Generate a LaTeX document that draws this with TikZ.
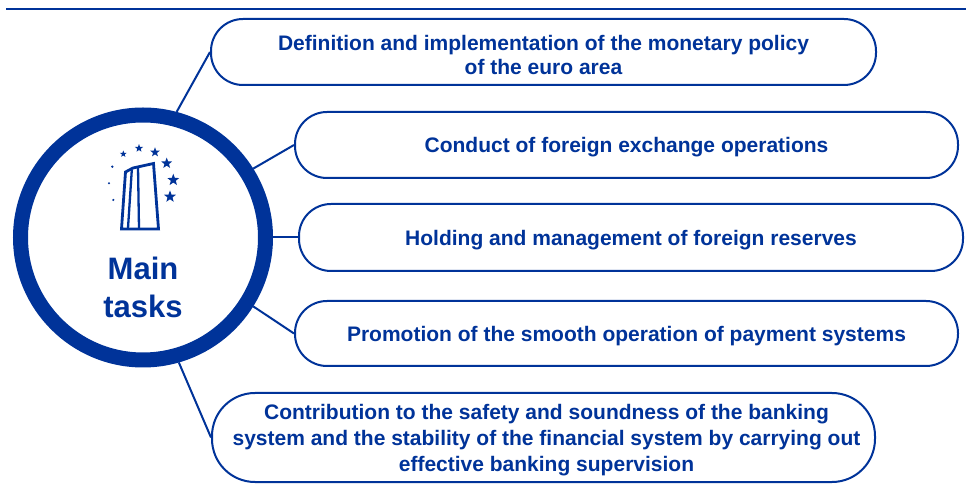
\documentclass[tikz,border=0pt]{standalone}
\usepackage{fontspec}
\setmainfont{Liberation Sans}
\usetikzlibrary{shapes.geometric}
\definecolor{ecbblue}{RGB}{0,51,153}
\begin{document}
\begin{tikzpicture}[x=1pt,y=-1pt,
  taskbox/.style={draw=ecbblue, line width=2pt, rounded corners=32pt, minimum height=66pt, inner sep=0pt},
  boxtext/.style={inner sep=0pt, align=center, font=\fontsize{21}{24.5}\selectfont\bfseries, text=ecbblue},
  link/.style={draw=ecbblue, line width=2pt},
  starmark/.style={star, star points=5, star point ratio=2.4, fill=ecbblue, inner sep=0pt},
  dotmark/.style={circle, fill=ecbblue, inner sep=0pt}]
\fill[white] (0,0) rectangle (970,494);
\useasboundingbox (0,0) rectangle (970,494);
% top rule
\draw[ecbblue, line width=2.2pt] (6,9) -- (966,9);
% boxes
\node[taskbox, minimum width=665pt] (b1) at (543.5,52) {};
\node[taskbox, minimum width=663pt] (b2) at (626.5,145) {};
\node[taskbox, minimum width=664pt, minimum height=67pt] (b3) at (631,237.5) {};
\node[taskbox, minimum width=663pt, minimum height=65pt] (b4) at (626.5,333.5) {};
\node[taskbox, minimum width=663pt, minimum height=89pt, rounded corners=43pt] (b5) at (543.5,437.5) {};
% box texts
\node[boxtext] (t1) at ([yshift=-3pt]b1.center) {Definition and implementation of the monetary policy\\of the euro area};
\node[boxtext] (t2) at ([yshift=-2.5pt]b2.center) {Conduct of foreign exchange operations};
\node[boxtext] (t3) at ([yshift=-2.5pt]b3.center) {Holding and management of foreign reserves};
\node[boxtext] (t4) at ([yshift=-2.5pt]b4.center) {Promotion of the smooth operation of payment systems};
\node[boxtext, font=\fontsize{21}{26}\selectfont\bfseries] (t5) at ([xshift=3pt,yshift=-3pt]b5.center) {Contribution to the safety and soundness of the banking\\system and the stability of the financial system by carrying out\\effective banking supervision};
% central circle
\node[draw=ecbblue, line width=15pt, circle, minimum size=245pt, inner sep=0pt, fill=white] (main) at (143,237.5) {};
\node[font=\fontsize{31}{38}\selectfont\bfseries, text=ecbblue, align=center] (mt) at (143,287) {Main\\tasks};
% connectors
\draw[link] (main.75) -- (b1.west);
\draw[link] (main.32) -- (b2.west);
\draw[link] (main.0) -- (b3.west);
\draw[link] (main.-32) -- (b4.west);
\draw[link] (main.-74) -- (b5.west);
% logo: building
\draw[ecbblue, line width=2.8pt, line join=miter] (121.5,229) -- (125.5,172) -- (133,168) -- (153.5,163.5) -- (158.5,229) -- cycle;
\draw[ecbblue, line width=2.3pt] (128,228) -- (131.8,170);
\draw[ecbblue, line width=2.3pt] (139,228) -- (138,166.5);
% logo: stars
\node[dotmark, minimum size=2.6pt] (s1) at (112.3,166.7) {};
\node[dotmark, minimum size=2.4pt] (s2) at (109,183.3) {};
\node[dotmark, minimum size=2.4pt] (s3) at (113.3,200) {};
\node[starmark, minimum size=7pt] (s4) at (123.3,154) {};
\node[starmark, minimum size=8.5pt] (s5) at (139,148.3) {};
\node[starmark, minimum size=10pt] (s6) at (155,152.3) {};
\node[starmark, minimum size=11.5pt] (s7) at (166.7,163.3) {};
\node[starmark, minimum size=12.5pt] (s8) at (173.3,180) {};
\node[starmark, minimum size=12.5pt] (s9) at (170,196.7) {};
\end{tikzpicture}
\end{document}
